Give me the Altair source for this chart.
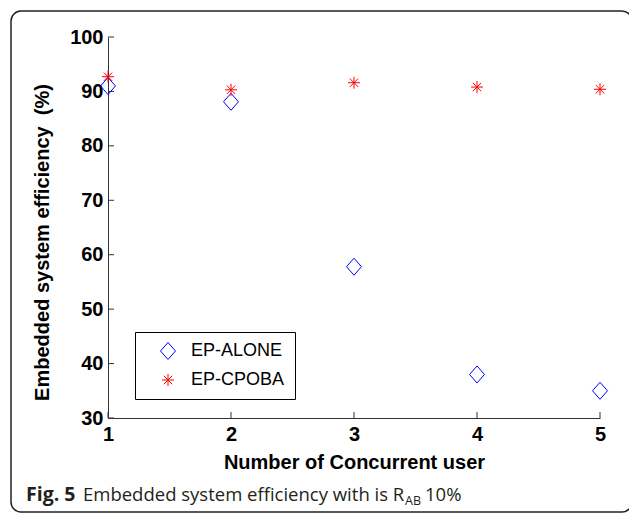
import altair as alt
import pandas as pd

# ---- data ----
users = [1, 2, 3, 4, 5]
ep_alone = [91.0, 88.1, 57.8, 38.0, 35.0]
ep_cpoba = [92.7, 90.3, 91.6, 90.8, 90.4]
series_names = ["EP-ALONE", "EP-CPOBA"]
x_ticks = [1, 2, 3, 4, 5]
y_ticks = [30, 40, 50, 60, 70, 80, 90, 100]

W, H = 492, 381
PAD = {"left": 108, "top": 37, "right": 29, "bottom": 96}

df = pd.DataFrame({
    "users": users * 2,
    "eff": ep_alone + ep_cpoba,
    "series": [series_names[0]] * len(users) + [series_names[1]] * len(users),
})

diamond = "M0,-1L0.88,0L0,1L-0.88,0Z"
star = "M0,-1L0,1M-1,0L1,0M-0.7,-0.7L0.7,0.7M-0.7,0.7L0.7,-0.7"

xscale = alt.Scale(domain=[1, 5], nice=False, zero=False)
yscale = alt.Scale(domain=[30, 100], nice=False, zero=False)

AXCOL = "#333333"

points = alt.Chart(df).mark_point(filled=False, strokeWidth=1, opacity=1).encode(
    x=alt.X("users:Q", scale=xscale, axis=alt.Axis(
        values=x_ticks, format="d", title="Number of Concurrent user",
        labelFont="Liberation Sans", labelFontWeight="bold", labelFontSize=20,
        labelColor="black", labelPadding=6, labelFlush=False, ticks=False, tickSize=0,
        domainColor=AXCOL, grid=False,
        titleFont="Liberation Sans", titleFontWeight="bold", titleFontSize=20,
        titleColor="black", titleX=246, titleY=50, titleBaseline="alphabetic",
        titleAnchor="middle", titleAlign="center")),
    y=alt.Y("eff:Q", scale=yscale, axis=alt.Axis(
        values=y_ticks, format="d", title="Embedded system efficiency \u00a0(%)",
        labelFont="Liberation Sans", labelFontWeight="bold", labelFontSize=20,
        labelColor="black", labelPadding=5, labelFlush=False, ticks=False, tickSize=0,
        domainColor=AXCOL, grid=False,
        titleFont="Liberation Sans", titleFontWeight="bold", titleFontSize=20,
        titleColor="black", titleX=-60, titleY=205, titleBaseline="alphabetic",
        titleAngle=270, titleAlign="center")),
    color=alt.Color("series:N", scale=alt.Scale(domain=series_names, range=["#0000ff", "#ff0000"]),
                    legend=alt.Legend(title=None, orient="none", legendX=27, legendY=295,
                                      padding=10, strokeColor="black", fillColor="white",
                                      labelFont="Liberation Sans", labelFontSize=18,
                                      labelColor="black", symbolOffset=14, labelOffset=14,
                                      rowPadding=9, symbolStrokeWidth=1)),
    shape=alt.Shape("series:N", scale=alt.Scale(domain=series_names, range=[diamond, star])),
    size=alt.Size("series:N", scale=alt.Scale(domain=series_names, range=[289, 144])),
)

# inward tick marks
xt = alt.Chart(pd.DataFrame({"t": x_ticks})).mark_rule(color=AXCOL, strokeWidth=1).encode(
    x=alt.X("t:Q", scale=xscale), y=alt.value(H), y2=alt.value(H - 6))
yt = alt.Chart(pd.DataFrame({"t": y_ticks})).mark_rule(color=AXCOL, strokeWidth=1).encode(
    y=alt.Y("t:Q", scale=yscale), x=alt.value(0), x2=alt.value(6))

one = pd.DataFrame({"k": [0]})
frame = alt.Chart(one).mark_rect(fill=None, stroke="#222222", strokeWidth=1.5, cornerRadius=10,
                                 clip=False).encode(
    x=alt.value(11 - PAD["left"]), x2=alt.value(632 - PAD["left"]),
    y=alt.value(11 - PAD["top"]), y2=alt.value(512 - PAD["top"]))

cap_y = 501 - PAD["top"]
cap1 = alt.Chart(one).mark_text(text="Fig. 5", font="Open Sans", fontWeight="bold", fontSize=19.5,
                                align="left", baseline="alphabetic", color="#231f20").encode(
    x=alt.value(26 - PAD["left"]), y=alt.value(cap_y))
cap2 = alt.Chart(one).mark_text(text="Embedded system efficiency with is R", font="Open Sans",
                                fontSize=18.5, align="left", baseline="alphabetic",
                                color="#231f20").encode(
    x=alt.value(83 - PAD["left"]), y=alt.value(cap_y))
cap3 = alt.Chart(one).mark_text(text="AB", font="Open Sans", fontSize=12.5, align="left",
                                baseline="alphabetic", color="#231f20").encode(
    x=alt.value(405 - PAD["left"]), y=alt.value(cap_y + 4))
cap4 = alt.Chart(one).mark_text(text="10%", font="Open Sans", fontSize=18.5, align="left",
                                baseline="alphabetic", color="#231f20").encode(
    x=alt.value(425 - PAD["left"]), y=alt.value(cap_y))

chart = alt.layer(xt, yt, points, frame, cap1, cap2, cap3, cap4).properties(
    width=W, height=H, padding=PAD, autosize=alt.AutoSizeParams(type="none"),
    background="white",
).configure_view(stroke=None)

chart.save("out.html", embed_options={"renderer": "svg", "actions": False})
